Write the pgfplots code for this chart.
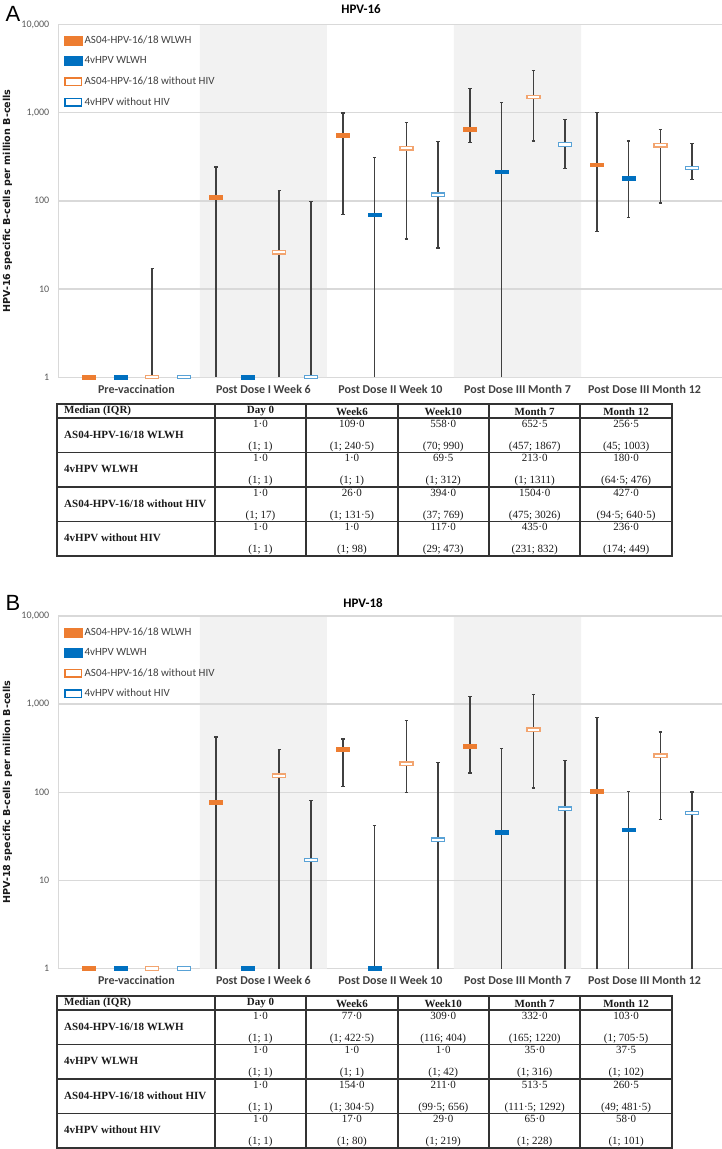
\documentclass[border=0pt]{standalone}
\usepackage{fontspec}
\setmainfont{Liberation Serif}
\newfontfamily\calibri{Carlito}
\newfontfamily\dejavu{DejaVu Sans}
\newfontfamily\arialf{Liberation Sans}
\usepackage{pgfplots}
\pgfplotsset{compat=1.18}
\definecolor{myorange}{HTML}{ED7D31}
\definecolor{myblue}{HTML}{0070C0}
\definecolor{whisk}{HTML}{404040}
\definecolor{gridc}{HTML}{D9D9D9}
\definecolor{shadec}{HTML}{F2F2F2}
\definecolor{tickc}{HTML}{595959}
\definecolor{labc}{HTML}{404040}
\definecolor{tblc}{HTML}{333333}
\definecolor{tbtext}{HTML}{1A1A1A}

\pgfdeclareplotmark{hbar}{%
 \pgfpathrectangle{\pgfpoint{-6.8bp}{-1.9bp}}{\pgfpoint{13.6bp}{3.8bp}}%
 \pgfusepathqfillstroke}
\pgfdeclareplotmark{hbaro}{%
 \pgfpathrectangle{\pgfpoint{-6.5bp}{-1.7bp}}{\pgfpoint{13bp}{3.4bp}}%
 \pgfusepathqfillstroke}
\pgfdeclareplotmark{hcap}{%
 \pgfpathmoveto{\pgfpoint{-1.8bp}{0bp}}\pgfpathlineto{\pgfpoint{1.8bp}{0bp}}%
 \pgfusepathqstroke}

\newcommand\tb{\bfseries\fontsize{11bp}{13bp}\selectfont}
\newcommand\tn{\fontsize{11bp}{13bp}\selectfont}
\newcommand\tickfont{\calibri\fontsize{10bp}{12bp}\selectfont}
\newcommand\xlabfont{\calibri\bfseries\fontsize{12bp}{14bp}\selectfont}
\newcommand\legfont{\calibri\fontsize{11bp}{13bp}\selectfont}

\pgfplotsset{
 shadeband/.style={fill=shadec, draw=none, forget plot},
 gline/.style={color=gridc, line width=1.5bp, forget plot},
 wl/.style={color=whisk, line width=1.7bp, forget plot},
 whiskcap/.style={only marks, mark=hcap, mark options={color=whisk, line width=1.4bp}, forget plot},
 medO/.style={only marks, mark=hbar, mark options={draw=myorange, fill=myorange, line width=0.5bp},
   legend image code/.code={\fill[myorange] (0bp,-4.5bp) rectangle (18bp,4.5bp);}},
 medB/.style={only marks, mark=hbar, mark options={draw=myblue, fill=myblue, line width=0.5bp},
   legend image code/.code={\fill[myblue] (0bp,-4.5bp) rectangle (18bp,4.5bp);}},
 medOo/.style={only marks, mark=hbaro, mark options={draw=myorange!70!white, fill=white, line width=1.3bp},
   legend image code/.code={\draw[myorange, line width=1.5bp, fill=white] (0.75bp,-3.75bp) rectangle (17.25bp,3.75bp);}},
 medBo/.style={only marks, mark=hbaro, mark options={draw=myblue!65!white, fill=white, line width=1.3bp},
   legend image code/.code={\draw[myblue, line width=1.5bp, fill=white] (0.75bp,-3.75bp) rectangle (17.25bp,3.75bp);}},
}

\newcommand\drawtable[1]{%
 \foreach \yy in {14,48.5,83,117.5} \draw[tblc, line width=1.4bp] (57,\yy) -- (672,\yy);
 \foreach \xx in {215,306,398,489,580} \draw[tblc, line width=1.4bp] (\xx,0) -- (\xx,152);
 \draw[tblc, line width=1.4bp] (57,0) rectangle (672,152);
 \node[anchor=west, inner sep=0pt, font=\tb, text=tbtext] at (64,7.3) {Median (IQR)};
 \foreach \c/\h in {1/Day 0,2/Week6,3/Week10,4/Month 7,5/Month 12}
   \node[inner sep=0pt, font=\tb, text=tbtext] at ({260.5+91.4*(\c-1)},7.5) {\h};
 \node[anchor=west, inner sep=0pt, font=\tb, text=tbtext] at (64,30.5) {AS04-HPV-16/18 WLWH};
 \node[anchor=west, inner sep=0pt, font=\tb, text=tbtext] at (64,65) {4vHPV WLWH};
 \node[anchor=west, inner sep=0pt, font=\tb, text=tbtext] at (64,99.5) {AS04-HPV-16/18 without HIV};
 \node[anchor=west, inner sep=0pt, font=\tb, text=tbtext] at (64,134) {4vHPV without HIV};
 \foreach \c/\r/\t/\b in {#1} {
   \node[anchor=north, inner sep=0pt, font=\tn, text=tbtext] at ({260.5+91.4*(\c-1)},{14+34.5*\r+1.8}) {\t};
   \node[anchor=south, inner sep=0pt, font=\tn, text=tbtext] at ({260.5+91.4*(\c-1)},{48.5+34.5*\r-0.8}) {\b};
 }%
}

\begin{document}
\begin{tikzpicture}
\path[use as bounding box] (0bp,0bp) rectangle (722bp,-1149bp);

% ---------------- Panel A ----------------
\node[font=\arialf\fontsize{22bp}{24bp}\selectfont] at (13bp,-13.5bp) {A};
\node[font=\calibri\bfseries\fontsize{13bp}{15bp}\selectfont] at (361bp,-9bp) {HPV-16};
\node[rotate=90, font=\dejavu\bfseries\fontsize{9.6bp}{12bp}\selectfont, text=black!90] at (7.5bp,-201bp) {HPV-16 specific B-cells per million B-cells};

\begin{axis}[at={(58bp,-377bp)}, anchor=south west,
  scale only axis, width=664bp, height=352.5bp,
  xmin=-0.47, xmax=20.44,
  ymode=log, ymin=1, ymax=10000,
  clip=false,
  axis line style={gridc, line width=1bp},
  ytick={1,10,100,1000,10000},
  yticklabels={1,10,100,{1,000},{10,000}},
  xtick={2,6,10,14,18},
  xticklabels={Pre-vaccination, Post Dose I Week 6, Post Dose II Week 10, Post Dose III Month 7, Post Dose III Month 12},
  major tick length=0pt, minor tick length=0pt,
  yticklabel style={font=\tickfont, text=tickc, anchor=east, inner sep=0pt, xshift=-8.5bp},
  xticklabel style={font=\xlabfont, text=labc, anchor=center, inner sep=0pt, yshift=-12bp},
  legend cell align=left,
  legend style={draw=none, fill=none, at={(0,1)}, anchor=north west, xshift=6bp, yshift=-9.5bp, inner sep=0pt,
    font=\legfont, text=labc, row sep=7.6bp},
  ]
\addplot[shadeband] coordinates {(4,1) (8,1) (8,10000) (4,10000) (4,1)};
\addplot[shadeband] coordinates {(12,1) (16,1) (16,10000) (12,10000) (12,1)};
\addplot[gline] coordinates {(-0.47,10) (20.44,10)};
\addplot[gline] coordinates {(-0.47,100) (20.44,100)};
\addplot[gline] coordinates {(-0.47,1000) (20.44,1000)};
\addplot[gline] coordinates {(-0.47,10000) (20.44,10000)};
\addplot[wl] coordinates {(2.5,1) (2.5,17)};
\addplot[wl] coordinates {(4.5,1) (4.5,240.5)};
\addplot[wl] coordinates {(6.5,1) (6.5,131.5)};
\addplot[wl] coordinates {(7.5,1) (7.5,98)};
\addplot[wl] coordinates {(8.5,70) (8.5,990)};
\addplot[wl] coordinates {(9.5,1) (9.5,312)};
\addplot[wl] coordinates {(10.5,37) (10.5,769)};
\addplot[wl] coordinates {(11.5,29) (11.5,473)};
\addplot[wl] coordinates {(12.5,457) (12.5,1867)};
\addplot[wl] coordinates {(13.5,1) (13.5,1311)};
\addplot[wl] coordinates {(14.5,475) (14.5,3026)};
\addplot[wl] coordinates {(15.5,231) (15.5,832)};
\addplot[wl] coordinates {(16.5,45) (16.5,1003)};
\addplot[wl] coordinates {(17.5,64.5) (17.5,476)};
\addplot[wl] coordinates {(18.5,94.5) (18.5,640.5)};
\addplot[wl] coordinates {(19.5,174) (19.5,449)};
\addplot[whiskcap] coordinates {(2.5,17) (4.5,240.5) (6.5,131.5) (7.5,98) (8.5,70) (8.5,990) (9.5,312)
 (10.5,37) (10.5,769) (11.5,29) (11.5,473) (12.5,457) (12.5,1867) (13.5,1311) (14.5,475) (14.5,3026)
 (15.5,231) (15.5,832) (16.5,45) (16.5,1003) (17.5,64.5) (17.5,476) (18.5,94.5) (18.5,640.5) (19.5,174) (19.5,449)};
\addplot[medO] coordinates {(0.5,1) (4.5,109) (8.5,558) (12.5,652.5) (16.5,256.5)};
\addlegendentry{AS04-HPV-16/18 WLWH}
\addplot[medB] coordinates {(1.5,1) (5.5,1) (9.5,69.5) (13.5,213) (17.5,180)};
\addlegendentry{4vHPV WLWH}
\addplot[medOo] coordinates {(2.5,1) (6.5,26) (10.5,394) (14.5,1504) (18.5,427)};
\addlegendentry{AS04-HPV-16/18 without HIV}
\addplot[medBo] coordinates {(3.5,1) (7.5,1) (11.5,117) (15.5,435) (19.5,236)};
\addlegendentry{4vHPV without HIV}
\end{axis}

\begin{scope}[x=1bp, y=-1bp, shift={(0bp,-404bp)}]
\drawtable{1/0/1·0/(1; 1), 2/0/109·0/(1; 240·5), 3/0/558·0/(70; 990), 4/0/652·5/(457; 1867), 5/0/256·5/(45; 1003),
 1/1/1·0/(1; 1), 2/1/1·0/(1; 1), 3/1/69·5/(1; 312), 4/1/213·0/(1; 1311), 5/1/180·0/(64·5; 476),
 1/2/1·0/(1; 17), 2/2/26·0/(1; 131·5), 3/2/394·0/(37; 769), 4/2/1504·0/(475; 3026), 5/2/427·0/(94·5; 640·5),
 1/3/1·0/(1; 1), 2/3/1·0/(1; 98), 3/3/117·0/(29; 473), 4/3/435·0/(231; 832), 5/3/236·0/(174; 449)}
\end{scope}

% ---------------- Panel B ----------------
\node[font=\arialf\fontsize{22bp}{24bp}\selectfont] at (13bp,-603bp) {B};
\node[font=\calibri\bfseries\fontsize{13bp}{15bp}\selectfont] at (363bp,-603bp) {HPV-18};
\node[rotate=90, font=\dejavu\bfseries\fontsize{9.6bp}{12bp}\selectfont, text=black!90] at (7.5bp,-792bp) {HPV-18 specific B-cells per million B-cells};

\begin{axis}[at={(58bp,-968.5bp)}, anchor=south west,
  scale only axis, width=664bp, height=352.5bp,
  xmin=-0.47, xmax=20.44,
  ymode=log, ymin=1, ymax=10000,
  clip=false,
  axis line style={gridc, line width=1bp},
  ytick={1,10,100,1000,10000},
  yticklabels={1,10,100,{1,000},{10,000}},
  xtick={2,6,10,14,18},
  xticklabels={Pre-vaccination, Post Dose I Week 6, Post Dose II Week 10, Post Dose III Month 7, Post Dose III Month 12},
  major tick length=0pt, minor tick length=0pt,
  yticklabel style={font=\tickfont, text=tickc, anchor=east, inner sep=0pt, xshift=-8.5bp},
  xticklabel style={font=\xlabfont, text=labc, anchor=center, inner sep=0pt, yshift=-12bp},
  legend cell align=left,
  legend style={draw=none, fill=none, at={(0,1)}, anchor=north west, xshift=6bp, yshift=-9.5bp, inner sep=0pt,
    font=\legfont, text=labc, row sep=7.6bp},
  ]
\addplot[shadeband] coordinates {(4,1) (8,1) (8,10000) (4,10000) (4,1)};
\addplot[shadeband] coordinates {(12,1) (16,1) (16,10000) (12,10000) (12,1)};
\addplot[gline] coordinates {(-0.47,10) (20.44,10)};
\addplot[gline] coordinates {(-0.47,100) (20.44,100)};
\addplot[gline] coordinates {(-0.47,1000) (20.44,1000)};
\addplot[gline] coordinates {(-0.47,10000) (20.44,10000)};
\addplot[wl] coordinates {(4.5,1) (4.5,422.5)};
\addplot[wl] coordinates {(6.5,1) (6.5,304.5)};
\addplot[wl] coordinates {(7.5,1) (7.5,80)};
\addplot[wl] coordinates {(8.5,116) (8.5,404)};
\addplot[wl] coordinates {(9.5,1) (9.5,42)};
\addplot[wl] coordinates {(10.5,99.5) (10.5,656)};
\addplot[wl] coordinates {(11.5,1) (11.5,219)};
\addplot[wl] coordinates {(12.5,165) (12.5,1220)};
\addplot[wl] coordinates {(13.5,1) (13.5,316)};
\addplot[wl] coordinates {(14.5,111.5) (14.5,1292)};
\addplot[wl] coordinates {(15.5,1) (15.5,228)};
\addplot[wl] coordinates {(16.5,1) (16.5,705.5)};
\addplot[wl] coordinates {(17.5,1) (17.5,102)};
\addplot[wl] coordinates {(18.5,49) (18.5,481.5)};
\addplot[wl] coordinates {(19.5,1) (19.5,101)};
\addplot[whiskcap] coordinates {(4.5,422.5) (6.5,304.5) (7.5,80) (8.5,116) (8.5,404) (9.5,42) (10.5,99.5) (10.5,656)
 (11.5,219) (12.5,165) (12.5,1220) (13.5,316) (14.5,111.5) (14.5,1292) (15.5,228) (16.5,705.5) (17.5,102)
 (18.5,49) (18.5,481.5) (19.5,101)};
\addplot[medO] coordinates {(0.5,1) (4.5,77) (8.5,309) (12.5,332) (16.5,103)};
\addlegendentry{AS04-HPV-16/18 WLWH}
\addplot[medB] coordinates {(1.5,1) (5.5,1) (9.5,1) (13.5,35) (17.5,37.5)};
\addlegendentry{4vHPV WLWH}
\addplot[medOo] coordinates {(2.5,1) (6.5,154) (10.5,211) (14.5,513.5) (18.5,260.5)};
\addlegendentry{AS04-HPV-16/18 without HIV}
\addplot[medBo] coordinates {(3.5,1) (7.5,17) (11.5,29) (15.5,65) (19.5,58)};
\addlegendentry{4vHPV without HIV}
\end{axis}

\begin{scope}[x=1bp, y=-1bp, shift={(0bp,-996bp)}]
\drawtable{1/0/1·0/(1; 1), 2/0/77·0/(1; 422·5), 3/0/309·0/(116; 404), 4/0/332·0/(165; 1220), 5/0/103·0/(1; 705·5),
 1/1/1·0/(1; 1), 2/1/1·0/(1; 1), 3/1/1·0/(1; 42), 4/1/35·0/(1; 316), 5/1/37·5/(1; 102),
 1/2/1·0/(1; 1), 2/2/154·0/(1; 304·5), 3/2/211·0/(99·5; 656), 4/2/513·5/(111·5; 1292), 5/2/260·5/(49; 481·5),
 1/3/1·0/(1; 1), 2/3/17·0/(1; 80), 3/3/29·0/(1; 219), 4/3/65·0/(1; 228), 5/3/58·0/(1; 101)}
\end{scope}
\end{tikzpicture}
\end{document}
